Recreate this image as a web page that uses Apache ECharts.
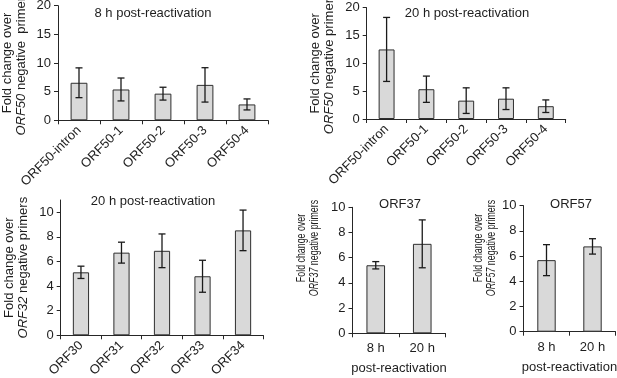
<!DOCTYPE html>
<html>
<head>
<meta charset="utf-8">
<script src="https://cdn.jsdelivr.net/npm/echarts@6/dist/echarts.min.js"></script>
<style>
html,body{margin:0;padding:0;background:#fff;}
#chart{width:617px;height:378px;}
</style>
</head>
<body>
<div id="chart"></div>
<script>
// ---- data ----
var orf50Cats = ['ORF50-intron', 'ORF50-1', 'ORF50-2', 'ORF50-3', 'ORF50-4'];
var orf50_8h = [6.55, 5.38, 4.65, 6.18, 2.77];
var orf50_8hErr = [2.6, 2.0, 1.12, 3.0, 0.96];
var orf50_20h = [12.5, 5.35, 3.3, 3.65, 2.3];
var orf50_20hErr = [5.75, 2.36, 2.3, 1.95, 1.13];
var orf32Cats = ['ORF30', 'ORF31', 'ORF32', 'ORF33', 'ORF34'];
var orf32Vals = [5.12, 6.72, 6.87, 4.8, 8.53];
var orf32Err = [0.5, 0.85, 1.37, 1.3, 1.65];
var timeCats = ['8 h', '20 h'];
var orf37Vals = [5.4, 7.1];
var orf37Err = [0.29, 1.9];
var orf57Vals = [5.68, 6.77];
var orf57Err = [1.23, 0.61];
var ticks20 = [0, 5, 10, 15, 20];
var ticks10 = [0, 2, 4, 6, 8, 10];

var FONT = '"Liberation Sans", Arial, Helvetica, sans-serif';
var TXT = '#1e1e1e';
var LINE = '#262626';

function errData(vals, errs) {
  return vals.map(function (v, i) { return [i, v - errs[i], v + errs[i]]; });
}
function errRender(params, api) {
  var x = api.value(0);
  var pHi = api.coord([x, api.value(2)]);
  var pLo = api.coord([x, api.value(1)]);
  var hw = 3.5;
  var st = { stroke: '#1a1a1a', lineWidth: 1.3 };
  return {
    type: 'group',
    children: [
      { type: 'line', shape: { x1: pHi[0], y1: pHi[1], x2: pLo[0], y2: pLo[1] }, style: st },
      { type: 'line', shape: { x1: pHi[0] - hw, y1: pHi[1], x2: pHi[0] + hw, y2: pHi[1] }, style: st },
      { type: 'line', shape: { x1: pLo[0] - hw, y1: pLo[1], x2: pLo[0] + hw, y2: pLo[1] }, style: st }
    ]
  };
}
var richY = {
  n: { fontSize: 13, fontFamily: FONT, color: TXT, lineHeight: 14 },
  i: { fontSize: 13, fontFamily: FONT, color: TXT, fontStyle: 'italic', lineHeight: 14 }
};
function xAx(idx, cats, rotated, name) {
  return {
    type: 'category', gridIndex: idx, data: cats,
    axisLine: { lineStyle: { color: LINE, width: 1 } },
    axisTick: { show: true, length: 4, lineStyle: { color: LINE } },
    axisLabel: { interval: 0, rotate: rotated ? 45 : 0, fontSize: 13, fontFamily: FONT, color: TXT, margin: rotated ? 8 : 9 },
    name: name || '', nameLocation: 'middle', nameGap: 29,
    nameTextStyle: { fontSize: 13, fontFamily: FONT, color: TXT }
  };
}
function yAx(idx, max, interval, tickVals, name) {
  var o = {
    type: 'value', gridIndex: idx, min: 0, max: max, interval: interval,
    axisLine: { show: true, lineStyle: { color: LINE, width: 1 } },
    axisTick: { show: true, length: 4, lineStyle: { color: LINE }, customValues: tickVals },
    axisLabel: { fontSize: 13, fontFamily: FONT, color: TXT, margin: 7, customValues: tickVals },
    splitLine: { show: false }
  };
  if (name) {
    o.name = name; o.nameLocation = 'middle'; o.nameGap = 30; o.nameRotate = 90;
    o.nameTextStyle = { fontSize: 13, fontFamily: FONT, color: TXT, lineHeight: 14, rich: richY };
  }
  return o;
}
function barS(idx, vals) {
  return {
    type: 'bar', xAxisIndex: idx, yAxisIndex: idx, data: vals, barWidth: '40%',
    itemStyle: { color: '#d9d9d9', borderColor: '#2e2e2e', borderWidth: 1 }, z: 2
  };
}
function errS(idx, vals, errs) {
  return {
    type: 'custom', xAxisIndex: idx, yAxisIndex: idx, data: errData(vals, errs),
    renderItem: errRender, z: 5
  };
}
function ttl(text, cx, top) {
  return { text: text, left: cx, top: top, textAlign: 'center', padding: 0,
    textStyle: { fontSize: 13, fontWeight: 'normal', fontFamily: FONT, color: TXT } };
}
function sideTitle(italic, cx, cy) {
  return {
    type: 'text', x: cx, y: cy, rotation: Math.PI / 2, scaleX: 0.68,
    style: {
      text: '{n|Fold change over}\n{i|' + italic + '}{n| negative primers}',
      rich: {
        n: { fontSize: 13, fontFamily: FONT, fill: TXT, lineHeight: 13 },
        i: { fontSize: 13, fontFamily: FONT, fill: TXT, fontStyle: 'italic', lineHeight: 13 }
      },
      align: 'center', verticalAlign: 'middle'
    }
  };
}

var chart = echarts.init(document.getElementById('chart'), null, { renderer: 'canvas' });
chart.setOption({
  animation: false,
  backgroundColor: '#ffffff',
  title: [
    ttl('8 h post-reactivation', 153, 7),
    ttl('20 h post-reactivation', 467, 7),
    ttl('20 h post-reactivation', 153, 194.5),
    ttl('ORF37', 400, 197.5),
    ttl('ORF57', 571, 197.5)
  ],
  grid: [
    { left: 58, top: 5.7, width: 210, height: 114.6, outerBoundsMode: 'none' },
    { left: 366.7, top: 7.7, width: 199, height: 111.3, outerBoundsMode: 'none' },
    { left: 60.7, top: 200, width: 202.6, height: 135.3, outerBoundsMode: 'none' },
    { left: 352.5, top: 207.3, width: 93, height: 126, outerBoundsMode: 'none' },
    { left: 523.5, top: 205.7, width: 92, height: 126, outerBoundsMode: 'none' }
  ],
  xAxis: [
    xAx(0, orf50Cats, true),
    xAx(1, orf50Cats, true),
    xAx(2, orf32Cats, true),
    xAx(3, timeCats, false, 'post-reactivation'),
    xAx(4, timeCats, false, 'post-reactivation')
  ],
  yAxis: [
    yAx(0, 20, 5, ticks20, '{n|Fold change over}\n{i|ORF50}{n| negative  primers}'),
    yAx(1, 20, 5, ticks20, '{n|Fold change over}\n{i|ORF50}{n| negative primers}'),
    yAx(2, 11, 1, ticks10, '{n|Fold change over}\n{i|ORF32}{n| negative primers}'),
    yAx(3, 10, 2, ticks10),
    yAx(4, 10, 2, ticks10)
  ],
  graphic: [
    sideTitle('ORF37', 307.5, 248),
    sideTitle('ORF57', 485, 248)
  ],
  series: [
    barS(0, orf50_8h), errS(0, orf50_8h, orf50_8hErr),
    barS(1, orf50_20h), errS(1, orf50_20h, orf50_20hErr),
    barS(2, orf32Vals), errS(2, orf32Vals, orf32Err),
    barS(3, orf37Vals), errS(3, orf37Vals, orf37Err),
    barS(4, orf57Vals), errS(4, orf57Vals, orf57Err)
  ]
});
</script>
</body>
</html>
